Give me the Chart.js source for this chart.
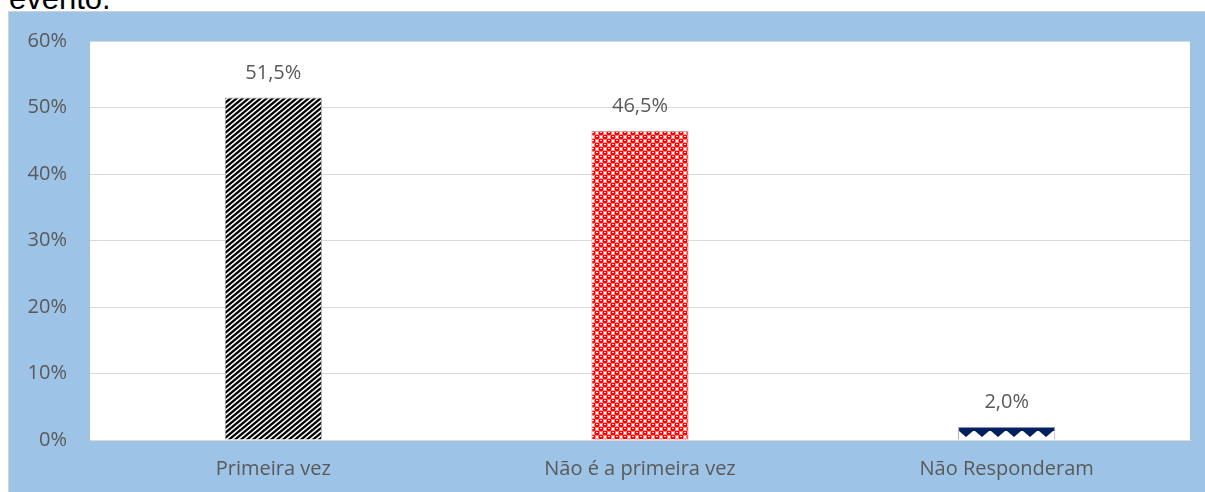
<!DOCTYPE html>
<html>
<head>
<meta charset="utf-8">
<script src="https://cdn.jsdelivr.net/npm/chart.js@4/dist/chart.umd.min.js"></script>
<style>
    html, body { margin: 0; padding: 0; background: #fff; overflow: hidden; }
    #titulo {
        position: absolute; left: 9px; top: -17px;
        font: 31px/31px "Liberation Sans", Arial, sans-serif; color: #000;
    }
    #marco {
        position: absolute; left: 8px; top: 11px; width: 1197px; height: 481px;
        background: #9dc3e6; border-top: 1px solid #d0d0d0; border-left: 1px solid #d0d0d0;
    }
    #grafico { display: block; }
</style>
</head>
<body>
<div id="titulo">evento.</div>
<div id="marco"><canvas id="grafico" width="1196" height="480"></canvas></div>
<script>
document.addEventListener("DOMContentLoaded", function () {

    const categorias = ['Primeira vez', 'Não é a primeira vez', 'Não Responderam'];
    const valores = [51.5, 46.5, 2.0];
    const ticksY = [0, 10, 20, 30, 40, 50, 60];

    // PATRONES DE RELLENO
    function patron(w, h, dibujar) {
        const c = document.createElement('canvas');
        c.width = w; c.height = h;
        const ctx = c.getContext('2d');
        dibujar(ctx);
        return document.getElementById('grafico').getContext('2d').createPattern(c, 'repeat');
    }

    const rayas = patron(6, 5, function (ctx) {
        ctx.fillStyle = '#fff';
        ctx.fillRect(0, 0, 6, 5);
        ctx.strokeStyle = '#000';
        ctx.lineWidth = 2.3;
        for (let k = -6; k <= 12; k += 6) {
            ctx.beginPath();
            ctx.moveTo(k - 6, 10);
            ctx.lineTo(k + 12, -5);
            ctx.stroke();
        }
    });

    const puntos = patron(8, 8, function (ctx) {
        ctx.fillStyle = '#ff0000';
        ctx.fillRect(0, 0, 8, 8);
        ctx.fillStyle = '#fff';
        ctx.fillRect(4, 0, 4, 4);
        ctx.fillRect(0, 4, 4, 4);
        // circulos rojos que invaden las esquinas blancas
        ctx.fillStyle = '#ff0000';
        [[2, 2], [6, 6], [10, 2], [-2, 6], [2, 10], [6, -2], [10, 10], [-2, -2], [-2, 10], [10, -2]].forEach(function (c) {
            ctx.beginPath();
            ctx.arc(c[0], c[1], 2.6, 0, Math.PI * 2);
            ctx.fill();
        });
        ctx.fillStyle = '#ffd0d0';
        ctx.fillRect(1, 1, 2, 1);
        ctx.fillRect(5, 5, 2, 1);
    });

    const tejas = patron(16, 16, function (ctx) {
        ctx.fillStyle = '#fff';
        ctx.fillRect(0, 0, 16, 16);
        ctx.fillStyle = '#002060';
        ctx.fillRect(0, 0, 16, 4);
        ctx.beginPath();
        ctx.moveTo(1, 4);
        ctx.lineTo(15, 4);
        ctx.lineTo(8, 10);
        ctx.closePath();
        ctx.fill();
    });

    const fondoArea = {
        id: 'fondoArea',
        beforeDraw(chart) {
            const a = chart.chartArea, ctx = chart.ctx;
            ctx.save();
            ctx.fillStyle = '#fff';
            ctx.fillRect(a.left, a.top, a.right - a.left, a.bottom - a.top);
            ctx.restore();
        }
    };

    // alinear cada patron con el borde superior izquierdo de su barra
    const anclaPatron = {
        id: 'anclaPatron',
        beforeDatasetsDraw(chart) {
            chart.getDatasetMeta(0).data.forEach(function (barra, i) {
                const p = chart.data.datasets[0].backgroundColor[i];
                if (p && p.setTransform) {
                    p.setTransform(new DOMMatrix().translate(Math.round(barra.x - barra.width / 2), Math.round(barra.y)));
                }
            });
        }
    };

    const etiquetas = {
        id: 'etiquetas',
        afterDatasetsDraw(chart) {
            const ctx = chart.ctx;
            ctx.save();
            ctx.font = '20px "Open Sans", sans-serif';
            ctx.fillStyle = '#595959';
            ctx.textAlign = 'center';
            ctx.textBaseline = 'middle';
            chart.getDatasetMeta(0).data.forEach(function (barra, i) {
                ctx.fillText(valores[i].toFixed(1).replace('.', ',') + '%', barra.x, barra.y - 24);
            });
            ctx.restore();
        }
    };

    new Chart(document.getElementById('grafico'), {
        type: 'bar',
        data: {
            labels: categorias,
            datasets: [{
                data: valores,
                backgroundColor: [rayas, puntos, tejas],
                borderColor: '#a6a6a6',
                borderWidth: 1,
                borderSkipped: 'bottom',
                barPercentage: 0.265,
                categoryPercentage: 1
            }]
        },
        options: {
            responsive: false,
            animation: false,
            layout: { padding: { left: 0, right: 15, top: 29, bottom: 0 } },
            plugins: { legend: { display: false }, tooltip: { enabled: false } },
            scales: {
                x: {
                    grid: { display: false, drawTicks: false },
                    border: { color: '#d9d9d9' },
                    ticks: { color: '#595959', font: { family: 'Open Sans', size: 20 }, padding: 17 },
                    afterFit(s) { s.height = 52; s.paddingLeft = 0; s.paddingRight = 0; }
                },
                y: {
                    min: 0, max: 60,
                    afterBuildTicks(s) { s.ticks = ticksY.map(v => ({ value: v })); },
                    grid: { color: '#d9d9d9', drawTicks: false },
                    border: { display: false },
                    ticks: {
                        color: '#595959', font: { family: 'Open Sans', size: 20 }, padding: 23,
                        callback: v => v + '%'
                    },
                    afterFit(s) { s.width = 81; s.paddingTop = 0; s.paddingBottom = 0; }
                }
            }
        },
        plugins: [fondoArea, anclaPatron, etiquetas]
    });

});
</script>
</body>
</html>
